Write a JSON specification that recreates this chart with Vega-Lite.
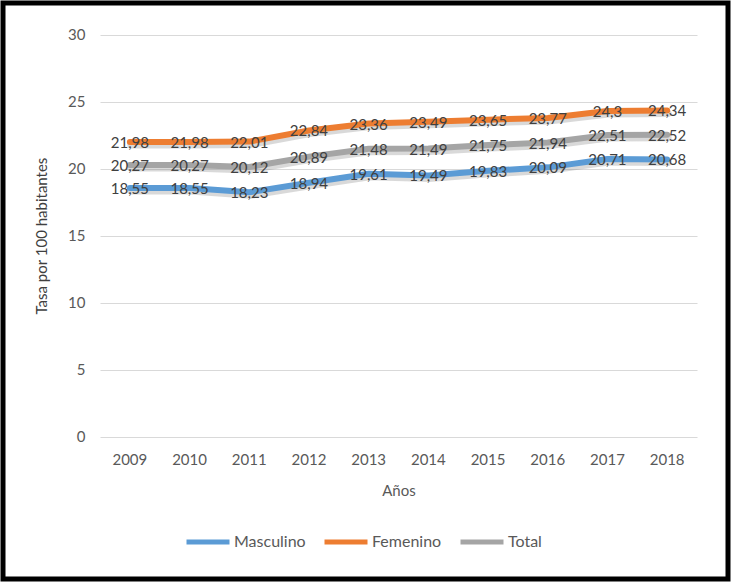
{
  "$schema": "https://vega.github.io/schema/vega-lite/v6.json",
  "autosize": "none",
  "padding": {"left": 3, "top": 3, "right": 8, "bottom": 5},
  "width": 725,
  "height": 576,
  "background": "white",
  "config": {
    "view": {"stroke": "black", "strokeWidth": 5, "fill": "white"},
    "font": "Lato",
    "locale": {"number": {"decimal": ",", "thousands": ".", "grouping": [3], "currency": ["", " €"]}}
  },
  "data": {
    "values": [
      {"year": "2009", "serie": "Masculino", "value": 18.55},
      {"year": "2010", "serie": "Masculino", "value": 18.55},
      {"year": "2011", "serie": "Masculino", "value": 18.23},
      {"year": "2012", "serie": "Masculino", "value": 18.94},
      {"year": "2013", "serie": "Masculino", "value": 19.61},
      {"year": "2014", "serie": "Masculino", "value": 19.49},
      {"year": "2015", "serie": "Masculino", "value": 19.83},
      {"year": "2016", "serie": "Masculino", "value": 20.09},
      {"year": "2017", "serie": "Masculino", "value": 20.71},
      {"year": "2018", "serie": "Masculino", "value": 20.68},
      {"year": "2009", "serie": "Femenino", "value": 21.98},
      {"year": "2010", "serie": "Femenino", "value": 21.98},
      {"year": "2011", "serie": "Femenino", "value": 22.01},
      {"year": "2012", "serie": "Femenino", "value": 22.84},
      {"year": "2013", "serie": "Femenino", "value": 23.36},
      {"year": "2014", "serie": "Femenino", "value": 23.49},
      {"year": "2015", "serie": "Femenino", "value": 23.65},
      {"year": "2016", "serie": "Femenino", "value": 23.77},
      {"year": "2017", "serie": "Femenino", "value": 24.3},
      {"year": "2018", "serie": "Femenino", "value": 24.34},
      {"year": "2009", "serie": "Total", "value": 20.27},
      {"year": "2010", "serie": "Total", "value": 20.27},
      {"year": "2011", "serie": "Total", "value": 20.12},
      {"year": "2012", "serie": "Total", "value": 20.89},
      {"year": "2013", "serie": "Total", "value": 21.48},
      {"year": "2014", "serie": "Total", "value": 21.49},
      {"year": "2015", "serie": "Total", "value": 21.75},
      {"year": "2016", "serie": "Total", "value": 21.94},
      {"year": "2017", "serie": "Total", "value": 22.51},
      {"year": "2018", "serie": "Total", "value": 22.52}
    ]
  },
  "encoding": {
    "x": {
      "field": "year", "type": "ordinal",
      "scale": {"type": "band", "range": [97, 694], "paddingInner": 0, "paddingOuter": 0},
      "axis": {
        "title": "Años", "orient": "bottom", "offset": -142.3,
        "domain": false, "ticks": false, "grid": false,
        "labelAngle": 0, "labelFont": "Lato", "labelFontSize": 15, "labelColor": "#595959", "labelPadding": 16,
        "titleFont": "Lato", "titleFontSize": 15, "titleFontWeight": "normal", "titleColor": "#595959", "titlePadding": 16
      }
    },
    "y": {
      "field": "value", "type": "quantitative",
      "scale": {"domain": [0, 30], "range": [433.7, 31.5], "nice": false, "zero": true},
      "axis": {
        "title": "Tasa por 100 habitantes", "orient": "left", "offset": -97,
        "values": [0, 5, 10, 15, 20, 25, 30],
        "domain": false, "ticks": false, "grid": true, "gridColor": "#D9D9D9", "gridWidth": 1.2,
        "labelFont": "Lato", "labelFontSize": 15, "labelColor": "#595959", "labelPadding": 15,
        "titleFont": "Lato", "titleFontSize": 15, "titleFontWeight": "normal", "titleColor": "#404040", "titlePadding": 18
      }
    }
  },
  "layer": [
    {
      "mark": {"type": "line", "stroke": "#808080", "opacity": 0.3, "strokeWidth": 7, "yOffset": 3, "xOffset": 1, "strokeCap": "round", "strokeJoin": "round"},
      "encoding": {"detail": {"field": "serie"}}
    },
    {
      "mark": {"type": "line", "strokeWidth": 6, "strokeCap": "round", "strokeJoin": "round"},
      "encoding": {
        "color": {
          "field": "serie", "type": "nominal",
          "scale": {"domain": ["Masculino", "Femenino", "Total"], "range": ["#5B9BD5", "#ED7D31", "#A5A5A5"]},
          "legend": {
            "title": null, "orient": "none", "direction": "horizontal", "legendX": 181, "legendY": 515,
            "symbolType": "stroke", "symbolSize": 1849, "symbolStrokeWidth": 5,
            "labelFont": "Lato", "labelFontSize": 16, "labelColor": "#595959", "labelOffset": 2,
            "columnPadding": 8
          }
        }
      }
    },
    {
      "mark": {"type": "text", "font": "Lato", "fontSize": 15, "color": "#404040", "baseline": "middle", "dy": 1},
      "encoding": {
        "text": {"field": "value", "type": "quantitative", "format": "~r"},
        "detail": {"field": "serie"}
      }
    }
  ]
}
